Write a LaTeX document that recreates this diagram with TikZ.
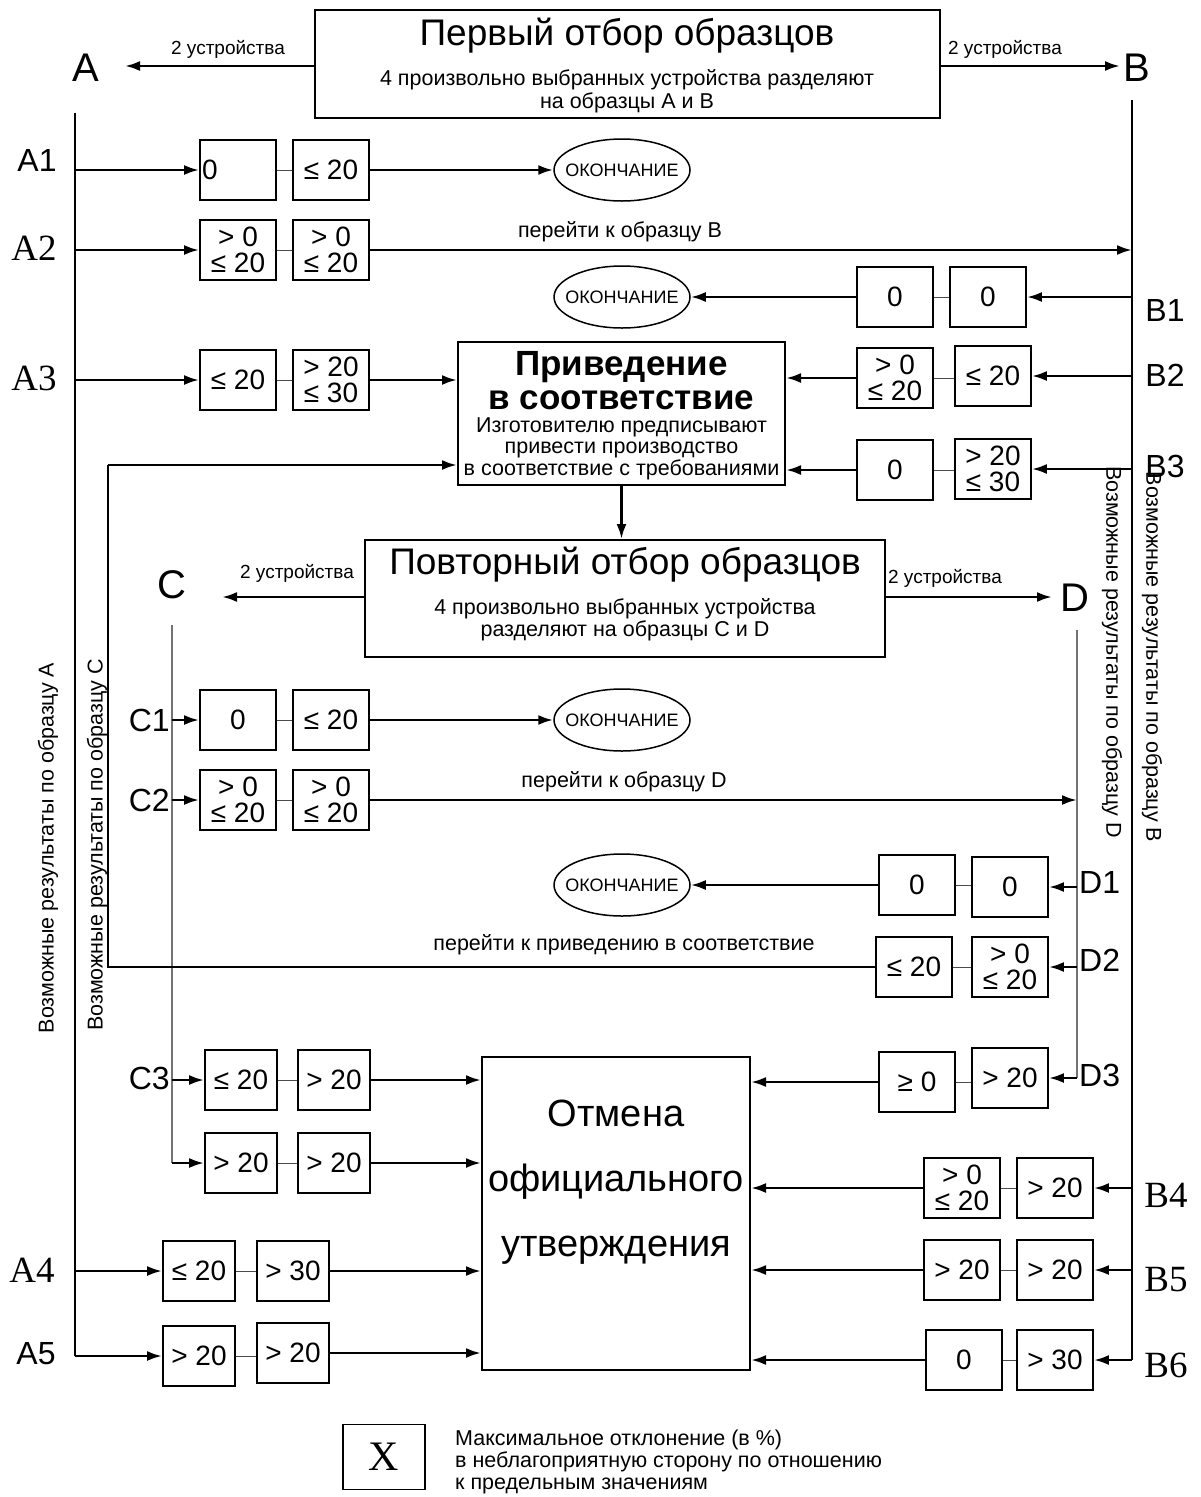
\documentclass[tikz,border=0pt]{standalone}
\usepackage{fontspec}
\setmainfont{Liberation Sans}
\newfontfamily\seriff{Liberation Serif}
\usetikzlibrary{arrows.meta,shapes.geometric}
\newcommand{\fs}[2]{\fontsize{#1}{#2}\selectfont}
\begin{document}
\begin{tikzpicture}[x={(1pt,0)},y={(0,-1pt)},
  bx/.style={draw,line width=1.8pt,minimum width=76pt,minimum height=60pt,inner sep=0pt,align=center,font=\fs{28}{25.5}},
  ln/.style={line width=2.6pt},
  arr/.style={line width=2.6pt,-{Latex[length=15pt,width=10pt]}},
  tl/.style={line width=1pt,black!70},
  gl/.style={line width=1.3pt,black!55},
  ov/.style={ellipse,draw,line width=1.5pt,minimum width=136pt,minimum height=62pt,inner xsep=-15pt,inner ysep=0pt,font=\fs{18}{18}},
  big/.style={draw,line width=2pt,inner sep=0pt,align=center},
  sm/.style={font=\fs{19}{21},inner sep=0pt},
  md/.style={font=\fs{21.5}{23},inner sep=0pt},
  lbs/.style={font=\fs{32}{32},inner sep=0pt},
  lbr/.style={font=\seriff\fs{37}{37},inner sep=0pt}]
\useasboundingbox (0,0) rectangle (1201,1497);

% ---- main boxes
\node[big,minimum width=625pt,minimum height=108pt] (top) at (627.5,64) {};
\node[font=\fs{37}{37},inner sep=0pt] (toptitle) at (627,36) {Первый отбор образцов};
\node[align=center,font=\fs{21.5}{23},inner sep=0pt] (topsub) at (627,91) {4 произвольно выбранных устройства разделяют\\на образцы A и B};

\node[big,minimum width=327pt,minimum height=143pt] (prv) at (621.5,413.5) {};
\node[inner sep=0pt,anchor=base,font=\bfseries\fs{35}{35}] (prvt1) at (621.5,375) {Приведение};
\node[inner sep=0pt,anchor=base,font=\bfseries\fs{35}{35}] (prvt2) at (621.5,409) {в соответствие};
\node[inner sep=0pt,anchor=base,font=\fs{21.5}{21}] (prvs1) at (621.5,432) {Изготовителю предписывают};
\node[inner sep=0pt,anchor=base,font=\fs{21.5}{21}] (prvs2) at (621.5,453) {привести производство};
\node[inner sep=0pt,anchor=base,font=\fs{21.5}{21}] (prvs3) at (621.5,475) {в соответствие с требованиями};

\node[big,minimum width=520pt,minimum height=117pt] (rep) at (625,598.5) {};
\node[font=\fs{37}{37},inner sep=0pt] (reptitle) at (625,565) {Повторный отбор образцов};
\node[align=center,font=\fs{21.5}{22},inner sep=0pt] (repsub) at (625,620) {4 произвольно выбранных устройства\\разделяют на образцы C и D};

\node[big,minimum width=268pt,minimum height=313pt] (otm) at (616,1213.5) {};
\node[inner sep=0pt,align=center,font=\fs{38}{65}] (otmtxt) at (616,1182) {Отмена\\официального\\утверждения};

% ---- sample letters
\node[font=\fs{40}{40},inner sep=0pt] (lA) at (86,68) {A};
\node[font=\fs{40}{40},inner sep=0pt] (lB) at (1137,68) {B};
\node[font=\fs{40}{40},inner sep=0pt] (lC) at (172,585) {C};
\node[font=\fs{40}{40},inner sep=0pt] (lD) at (1075,598) {D};

\coordinate (Aend) at (125,66);
\coordinate (Bend) at (1120,66);
\coordinate (Cend) at (222,597);
\coordinate (Dend) at (1052,597);
\draw[arr] (top.west |- Aend) -- (Aend);
\draw[arr] (top.east |- Bend) -- (Bend);
\draw[arr] (rep.west |- Cend) -- (Cend);
\draw[arr] (rep.east |- Dend) -- (Dend);
\node[sm] (t1) at (228,49) {2 устройства};
\node[sm] (t2) at (1005,49) {2 устройства};
\node[sm] (t3) at (297,573) {2 устройства};
\node[sm] (t4) at (945,578) {2 устройства};

% ---- trunk lines
\coordinate (At) at (75,113);
\coordinate (Bt) at (1132,100);
\coordinate (Ct) at (172,625);
\coordinate (Dt) at (1077,630);

% ---- boxes
\node[bx,align=left,text width=72pt,inner xsep=2pt] (a1a) at (238,170) {0};
\node[bx] (a1b) at (331,170) {≤ 20};
\node[bx] (a2a) at (238,250) {> 0\\≤ 20};
\node[bx] (a2b) at (331,250) {> 0\\≤ 20};
\node[bx] (b1a) at (895,297) {0};
\node[bx] (b1b) at (988,297) {0};
\node[bx] (a3a) at (238,380) {≤ 20};
\node[bx] (a3b) at (331,380) {> 20\\≤ 30};
\node[bx] (b2a) at (895,378) {> 0\\≤ 20};
\node[bx] (b2b) at (993,376) {≤ 20};
\node[bx] (b3a) at (895,470) {0};
\node[bx] (b3b) at (993,469) {> 20\\≤ 30};
\node[bx] (c1a) at (238,720) {0};
\node[bx] (c1b) at (331,720) {≤ 20};
\node[bx] (c2a) at (238,800) {> 0\\≤ 20};
\node[bx] (c2b) at (331,800) {> 0\\≤ 20};
\node[bx] (d1a) at (917,885) {0};
\node[bx] (d1b) at (1010,887) {0};
\node[bx] (d2a) at (914,967) {≤ 20};
\node[bx] (d2b) at (1010,967) {> 0\\≤ 20};
\node[bx,minimum width=72pt] (c3a) at (241,1080) {≤ 20};
\node[bx,minimum width=72pt] (c3b) at (334,1080) {> 20};
\node[bx,minimum width=72pt] (c4a) at (241,1163) {> 20};
\node[bx,minimum width=72pt] (c4b) at (334,1163) {> 20};
\node[bx] (d3a) at (917,1082) {≥ 0};
\node[bx] (d3b) at (1010,1078) {> 20};
\node[bx] (b4a) at (962,1188) {> 0\\≤ 20};
\node[bx] (b4b) at (1055,1188) {> 20};
\node[bx] (b5a) at (962,1270) {> 20};
\node[bx] (b5b) at (1055,1270) {> 20};
\node[bx] (b6a) at (964,1360) {0};
\node[bx] (b6b) at (1055,1360) {> 30};
\node[bx,minimum width=72pt] (a4a) at (199,1271) {≤ 20};
\node[bx,minimum width=72pt] (a4b) at (293,1271) {> 30};
\node[bx,minimum width=72pt] (a5a) at (199,1356) {> 20};
\node[bx,minimum width=72pt] (a5b) at (293,1353) {> 20};

% dashes between paired boxes
\foreach \p in {a1,a2,a3,b1,b2,b3,c1,c2,c3,c4,d1,d2,d3,b4,b5,b6,a4,a5}
  \draw[tl] (\p a.east) -- (\p b.west |- \p a.east);

% ellipses
\node[ov] (e1) at (622,170) {ОКОНЧАНИЕ};
\node[ov] (e2) at (622,297) {ОКОНЧАНИЕ};
\node[ov] (e3) at (622,720) {ОКОНЧАНИЕ};
\node[ov] (e4) at (622,885) {ОКОНЧАНИЕ};

% ---- A trunk
\draw[ln] (At) -- (At |- a5a.west);
\draw[arr] (At |- a5a.west) -- (a5a.west);
\foreach \p in {a1a,a2a,a3a,a4a}
  \draw[arr] (At |- \p.west) -- (\p.west);
% ---- B trunk
\draw[ln] (Bt) -- (Bt |- b6b.east);
\draw[arr] (Bt |- b6b.east) -- (b6b.east);
\foreach \p in {b1b,b2b,b3b,b4b,b5b}
  \draw[arr] (Bt |- \p.east) -- (\p.east);
% ---- C trunk
\draw[gl] (Ct) -- (Ct |- c4a.west);
\foreach \p in {c1a,c2a,c3a,c4a}
  \draw[arr] (Ct |- \p.west) -- (\p.west);
% ---- D trunk
\draw[gl] (Dt) -- (Dt |- d3b.east);
\foreach \p in {d1b,d2b,d3b}
  \draw[arr] (Dt |- \p.east) -- (\p.east);

% ---- outcomes
\draw[arr] (a1b.east) -- (e1.west);
\draw[arr] (b1a.west) -- (e2.east);
\draw[arr] (c1b.east) -- (e3.west);
\draw[arr] (d1a.west) -- (e4.east);
\draw[arr] (a2b.east) -- (a2b.east -| Bt);
\node[md] (g1) at (620,232) {перейти к образцу B};
\draw[arr] (c2b.east) -- (c2b.east -| Dt);
\node[md] (g2) at (624,782) {перейти к образцу D};
\draw[arr] (a3b.east) -- (prv.west |- a3b.east);
\draw[arr] (b2a.west) -- (prv.east |- b2a.west);
\draw[arr] (b3a.west) -- (prv.east |- b3a.west);
\coordinate (ret) at (108,465);
\draw[ln] (d2a.west) -- (ret |- d2a.west) -- (ret);
\node[md] (g3) at (624,945) {перейти к приведению в соответствие};
\draw[arr] (ret) -- (prv.west |- ret);
\draw[arr] (prv.south) -- (prv.south |- rep.north);
\foreach \p in {c3b,c4b,a4b,a5b}
  \draw[arr] (\p.east) -- (otm.west |- \p.east);
\foreach \p in {d3a,b4a,b5a,b6a}
  \draw[arr] (\p.west) -- (otm.east |- \p.west);

% ---- row labels
\node[lbs] (A1) at (37,160) {A1};
\node[lbr] (A2) at (34,248) {A2};
\node[lbr] (A3) at (34,378) {A3};
\node[lbr] (A4) at (32,1270) {A4};
\node[lbs] (A5) at (36,1354) {A5};
\node[lbs] (B1) at (1165,310) {B1};
\node[lbs] (B2) at (1165,375) {B2};
\node[lbs] (B3) at (1165,466) {B3};
\node[lbr] (B4) at (1166,1195) {B4};
\node[lbr] (B5) at (1166,1280) {B5};
\node[lbr] (B6) at (1166,1365) {B6};
\node[lbs,anchor=east] (C1) at (170,720) {C1};
\node[lbs,anchor=east] (C2) at (170,800) {C2};
\node[lbs,anchor=east] (C3) at (170,1078) {C3};
\node[lbs,anchor=west] (D1) at (1079,882) {D1};
\node[lbs,anchor=west] (D2) at (1079,960) {D2};
\node[lbs,anchor=west] (D3) at (1079,1075) {D3};

% ---- vertical texts
\node[md,rotate=90] (vA) at (48,848) {Возможные результаты по образцу A};
\node[md,rotate=90] (vC) at (97,845) {Возможные результаты по образцу C};
\node[md,rotate=-90] (vB) at (1152,657) {Возможные результаты по образцу B};
\node[md,rotate=-90] (vD) at (1112,652) {Возможные результаты по образцу D};

% ---- legend
\node[draw,line width=1.5pt,minimum width=82pt,minimum height=65pt,inner sep=0pt,font=\seriff\fs{42}{42}] (leg) at (384,1457) {X};
\node[anchor=west,align=left,font=\fs{21.5}{22},inner sep=0pt] (legt) at (455,1462) {Максимальное отклонение (в \%)\\в неблагоприятную сторону по отношению\\к предельным значениям};
\end{tikzpicture}
\end{document}
